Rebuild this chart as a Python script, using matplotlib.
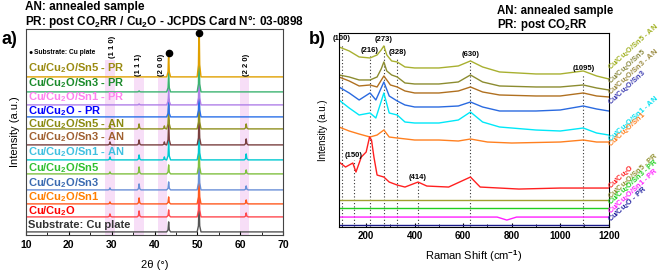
import numpy as np
import matplotlib
matplotlib.use('Agg')
import matplotlib.pyplot as plt

plt.rcParams['font.family'] = ['Liberation Sans', 'DejaVu Sans']
plt.rcParams['font.weight'] = 'bold'
plt.rcParams['mathtext.fontset'] = 'custom'
plt.rcParams['mathtext.rm'] = 'Liberation Sans:bold'
plt.rcParams['mathtext.it'] = 'Liberation Sans:bold'
plt.rcParams['mathtext.bf'] = 'Liberation Sans:bold'

# ---------------- XRD (panel a) ----------------
xrd_names = ['Cu/Cu$_2$O/Sn5 - PR', 'Cu/Cu$_2$O/Sn3 - PR', 'Cu/Cu$_2$O/Sn1 - PR',
             'Cu/Cu$_2$O - PR', 'Cu/Cu$_2$O/Sn5 - AN', 'Cu/Cu$_2$O/Sn3 - AN',
             'Cu/Cu$_2$O/Sn1 - AN', 'Cu/Cu$_2$O/Sn5', 'Cu/Cu$_2$O/Sn3',
             'Cu/Cu$_2$O/Sn1', 'Cu/Cu$_2$O', 'Substrate: Cu plate']
xrd_offsets = [158, 143, 130, 118, 106, 90, 75, 61, 45, 31, 18, 3]
xrd_label_y = [167, 152, 138, 124, 111, 98, 83, 67, 52, 38, 24, 10]
xrd_peaks = [29.6, 36.4, 42.3, 43.3, 50.4, 61.4]
# peak heights for each sample, same order as xrd_peaks
xrd_heights = [
    [0, 0, 0, 25, 60, 0],
    [0, 1, 0, 20, 40, 0],
    [0, 1, 0, 18, 35, 0],
    [0, 0, 0, 18, 35, 0],
    [3, 5, 3, 25, 35, 5],
    [3, 5, 3, 25, 35, 6],
    [3, 5, 3, 20, 35, 6],
    [2, 7, 0, 9, 35, 4],
    [2, 6, 0, 8, 35, 4],
    [2, 6, 0, 7, 35, 4],
    [3, 6, 0, 7, 35, 4],
    [0, 0, 0, 10, 30, 0],
]
xrd_line_colors = ['#e0a000', '#3cb371', '#b080e8', '#2a70e8', '#909020', '#7a4040',
                   '#00c8d0', '#80c040', '#6a90d8', '#ff5a20', '#ff4a50', '#555555']
xrd_text_colors = ['#9a8a10', '#1a8a2a', '#ff80f0', '#0000ff', '#8a8a10', '#a06030',
                   '#40c0e0', '#30c030', '#3a6ab0', '#ff7f00', '#ff0000', '#333333']
hkl_labels = ['(1 1 0)', '(1 1 1)', '(2 0 0)', '(2 2 0)']
hkl_pos = [30.1, 36.2, 41.6, 61.4]
bands = [(28.5, 30.8), (35.2, 37.6), (40.8, 42.9), (60.0, 62.1)]

# ---------------- Raman (panel b) ----------------
raman_names = ['Cu/Cu$_2$O/Sn5 - AN', 'Cu/Cu$_2$O/Sn5', 'Cu/Cu$_2$O/Sn3 - AN',
               'Cu/Cu$_2$O/Sn3', 'Cu/Cu$_2$O/Sn1 - AN', 'Cu/Cu$_2$O/Sn1',
               'Cu/Cu$_2$O', 'Cu/Cu$_2$O/Sn5 - PR', 'Cu/Cu$_2$O/Sn3 - PR',
               'Cu/Cu$_2$O/Sn1 - PR', 'Cu/Cu$_2$O - PR']
raman_x = [
    [88, 130, 171, 216, 245, 262, 273, 285, 305, 328, 360, 400, 500, 580, 630, 680, 750, 900, 1000, 1095, 1150, 1200],
    [88, 130, 171, 216, 245, 262, 273, 285, 305, 328, 360, 400, 500, 580, 630, 680, 750, 900, 1000, 1095, 1150, 1200],
    [88, 130, 171, 216, 245, 273, 300, 328, 360, 400, 500, 580, 630, 680, 750, 900, 1000, 1095, 1150, 1200],
    [88, 130, 171, 216, 240, 273, 295, 328, 360, 400, 500, 580, 630, 680, 750, 900, 1000, 1095, 1150, 1200],
    [88, 130, 171, 216, 240, 273, 295, 328, 360, 400, 500, 580, 630, 680, 750, 900, 1000, 1095, 1150, 1200],
    [88, 130, 171, 216, 245, 273, 295, 328, 400, 500, 580, 630, 700, 800, 1000, 1095, 1150, 1200],
    [88, 115, 145, 158, 180, 200, 214, 222, 232, 245, 273, 295, 328, 360, 414, 450, 540, 630, 670, 830, 1000, 1200],
    [88, 400, 800, 1200],
    [88, 400, 800, 1200],
    [88, 400, 740, 780, 820, 1200],
    [88, 400, 800, 1200],
]
raman_y = [
    [180, 176, 170, 169, 172, 177, 181, 172, 166, 165, 160, 159, 159, 161, 166, 160, 155, 153, 153, 156, 151, 148],
    [152, 150, 147, 147, 150, 158, 165, 156, 152, 150, 144, 143, 143, 145, 152, 145, 141, 140, 140, 142, 139, 137],
    [150, 146, 141, 142, 140, 151, 142, 140, 136, 134, 134, 136, 140, 135, 132, 131, 131, 134, 131, 130],
    [140, 134, 127, 134, 127, 145, 131, 126, 122, 120, 120, 121, 125, 120, 116, 116, 117, 121, 118, 116],
    [127, 119, 112, 114, 109, 134, 114, 112, 105, 104, 104, 107, 115, 105, 100, 97, 96, 99, 94, 92],
    [100, 96, 93, 90, 92, 97, 90, 89, 87, 87, 86, 88, 85, 84, 85, 87, 85, 85],
    [65, 60, 64, 55, 70, 75, 90, 87, 70, 52, 50, 45, 42, 40, 45, 41, 40, 50, 40, 38, 39, 39],
    [27, 27, 27, 27],
    [19, 19, 19, 19],
    [10, 10, 10, 7, 10, 10],
    [2, 2, 2, 2],
]
raman_line_colors = ['#a8b030', '#8c8c30', '#b07020', '#2a6ae0', '#00e8f8', '#ff8020',
                     '#ff2020', '#a0a030', '#20d020', '#ff20ff', '#1a1a8a']
raman_text_colors = ['#a0b020', '#8a8a40', '#9a8a40', '#3a3ab0', '#00e0f0', '#ff8020',
                     '#ff2020', '#909030', '#20d020', '#ff20ff', '#2020a0']
raman_label_y = [154, 140, 129, 119, 82, 77, 35, 25, 19, 10, 2]
raman_modes = [100, 150, 216, 273, 328, 414, 630, 1095]
raman_mode_labels = ['(100)', '(150)', '(216)', '(273)', '(328)', '(414)', '(630)', '(1095)']
raman_mode_y = [188, 72, 176, 187, 174, 50, 172, 158]

fig = plt.figure(figsize=(6.66, 2.70), dpi=100)

# panel a
ax = fig.add_axes([0.039, 0.13, 0.386, 0.763])
for (lo, hi), top in zip(bands, [0.85, 0.76, 0.76, 0.76]):
    ax.axvspan(lo, hi, ymin=0, ymax=top, color='#f2c4f2', alpha=0.55, lw=0)

dx = [-0.45, -0.15, 0, 0.15, 0.45]
frac = [0, 0.2, 1, 0.2, 0]
for i in range(len(xrd_names))[::-1]:
    xs = [10]
    ys = [xrd_offsets[i]]
    for p, h in zip(xrd_peaks, xrd_heights[i]):
        for d, f in zip(dx, frac):
            xs.append(p + d)
            ys.append(xrd_offsets[i] + f * h)
    xs.append(70)
    ys.append(xrd_offsets[i])
    ax.plot(xs, ys, color=xrd_line_colors[i], lw=1.0)
    ax.text(10.4, xrd_label_y[i], xrd_names[i], color=xrd_text_colors[i],
            fontsize=8.0, va='center', ha='left')

ax.plot([43.3, 50.4], [182, 202], 'o', color='black', ms=4.5, clip_on=False)
ax.text(10.6, 182, '●', fontsize=5, va='center', ha='left')
ax.text(11.8, 182, 'Substrate: Cu plate', fontsize=4.8, va='center', ha='left')
for lab, xp, y0 in zip(hkl_labels, hkl_pos, [188, 170, 170, 170]):
    ax.text(xp, y0, lab, rotation=90, fontsize=5.5, ha='center', va='center')

ax.set_xlim(10, 70)
ax.set_ylim(0, 206)
ax.set_yticks([])
ax.set_xticks(range(10, 71, 10))
ax.set_xticks(range(15, 70, 10), minor=True)
ax.tick_params(axis='x', direction='in', labelsize=7.5, length=3, pad=4)
ax.tick_params(axis='x', which='minor', direction='in', length=2)
ax.set_xlabel('2θ (°)', fontsize=8, labelpad=7)
ax.set_ylabel('Intensity (a.u.)', fontsize=8, labelpad=4)
for s in ax.spines.values():
    s.set_color('#444444')

# panel b
bx = fig.add_axes([0.509, 0.159, 0.405, 0.719])
for xm, lab, ym in zip(raman_modes, raman_mode_labels, raman_mode_y):
    bx.plot([xm, xm], [0, ym - 5], ls=(0, (1, 2)), color='#333333', lw=0.8)
    bx.text(xm, ym, lab, fontsize=5.5, ha='center', va='center', clip_on=False)
for i in range(len(raman_names)):
    bx.plot(raman_x[i], raman_y[i], color=raman_line_colors[i], lw=1.0)
    bx.text(1218, raman_label_y[i], raman_names[i], color=raman_text_colors[i],
            fontsize=5.3, rotation=42, rotation_mode='anchor', ha='left', va='bottom')

bx.set_xlim(88, 1200)
bx.set_ylim(0, 194)
bx.set_yticks([])
bx.set_xticks(range(200, 1201, 200))
bx.set_xticks(range(100, 1200, 200), minor=True)
bx.tick_params(axis='x', direction='in', labelsize=7, length=3, pad=3)
bx.tick_params(axis='x', which='minor', direction='in', length=2)
bx.set_xlabel('Raman Shift (cm$^{-1}$)', fontsize=8, labelpad=5)
bx.set_ylabel('Intensity (a.u.)', fontsize=7, labelpad=8)

# headers
fig.text(0.038, 0.975, 'AN: annealed sample', fontsize=8.5, va='center')
fig.text(0.038, 0.922, 'PR: post CO$_2$RR / Cu$_2$O - JCPDS Card N°: 03-0898', fontsize=8.5, va='center')
fig.text(0.746, 0.96, 'AN: annealed sample', fontsize=8.3, va='center')
fig.text(0.746, 0.907, 'PR: post CO$_2$RR', fontsize=8.3, va='center')
fig.text(0.003, 0.852, 'a)', fontsize=13, va='center')
fig.text(0.463, 0.852, 'b)', fontsize=13, va='center')

fig.savefig('out.png', dpi=100)
